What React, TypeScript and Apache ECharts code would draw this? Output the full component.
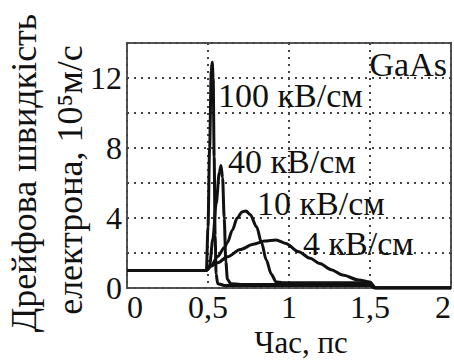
import React, { useEffect, useRef } from "react";
import * as echarts from "echarts";

const xTickValues = [0, 0.5, 1, 1.5, 2];
const xTickLabels = ["0", "0,5", "1", "1,5", "2"];
const yTickValues = [0, 4, 8, 12];
const yTickLabels = ["0", "4", "8", "12"];

const xTitle = "Час, пс";
const yTitleLine1 = "Дрейфова швидкість";
const yTitleLine2 = "електрона, 10⁵м/с";
const materialLabel = "GaAs";
const seriesNames = ["100 кВ/см", "40 кВ/см", "10 кВ/см", "4 кВ/см"];

// time (ps), drift velocity (10^5 m/s)
const v100: [number, number][] = [
  [0, 1.0], [0.49, 1.0], [0.5, 3.5], [0.51, 8.0], [0.52, 12.4], [0.526, 12.9],
  [0.532, 12.0], [0.538, 7.5], [0.544, 3.0], [0.55, 0.8], [0.56, 0.25],
  [0.6, 0.15], [1.0, 0.15], [1.5, 0.15], [1.53, 0.0], [2.0, 0.0],
];
const v40: [number, number][] = [
  [0, 1.0], [0.49, 1.0], [0.51, 1.3], [0.53, 2.8], [0.55, 4.8], [0.57, 6.6],
  [0.58, 7.0], [0.59, 6.3], [0.6, 4.0], [0.61, 1.5], [0.62, 0.5], [0.64, 0.25],
  [0.7, 0.2], [1.0, 0.2], [1.5, 0.2], [1.53, 0.0], [2.0, 0.0],
];
const v10: [number, number][] = [
  [0, 1.0], [0.49, 1.0], [0.52, 1.3], [0.56, 1.8], [0.6, 2.3], [0.62, 2.6],
  [0.65, 3.3], [0.68, 4.0], [0.71, 4.35], [0.735, 4.4], [0.76, 4.2], [0.8, 3.5],
  [0.83, 2.6], [0.86, 1.6], [0.89, 0.8], [0.92, 0.35], [0.96, 0.3], [1.2, 0.3],
  [1.5, 0.3], [1.53, 0.0], [2.0, 0.0],
];
const v4: [number, number][] = [
  [0, 1.0], [0.49, 1.0], [0.52, 1.25], [0.56, 1.45], [0.62, 1.78], [0.7, 2.2],
  [0.78, 2.5], [0.85, 2.68], [0.92, 2.74], [0.98, 2.55], [1.06, 2.07],
  [1.13, 1.7], [1.19, 1.4], [1.26, 1.05], [1.33, 0.74], [1.43, 0.46],
  [1.5, 0.35], [1.53, 0.05], [1.55, 0.0], [2.0, 0.0],
];

const FONT = "Liberation Serif";
const INK = "#111";
const CSS = `#chart-box svg text, #chart-box svg tspan { font-family: "Liberation Serif", serif !important; }`;

export default function App() {
  const ref = useRef<HTMLDivElement>(null);
  useEffect(() => {
    if (!ref.current) return;
    const chart = echarts.init(ref.current, null, { renderer: "svg" });
    const lineSeries = (name: string, data: [number, number][]) => ({
      name,
      type: "line",
      data,
      showSymbol: false,
      smooth: 0.3,
      smoothMonotone: "x",
      lineStyle: { color: INK, width: 3 },
      z: 3,
    });
    const text = (x: number, y: number, t: string, align: string, size = 34) => ({
      type: "text", x, y, z: 10,
      style: { text: t, fontFamily: FONT, fontSize: size, fill: INK, align, verticalAlign: "middle" },
    });
    const grid = { color: "#444", width: 2, type: [2, 5] };
    chart.setOption({
      animation: false,
      textStyle: { fontFamily: FONT },
      grid: {
        left: 127,
        right: 2,
        top: 43,
        bottom: 73,
        show: true,
        borderColor: "#555",
        borderWidth: 2,
      },
      xAxis: {
        type: "value",
        min: 0,
        max: 2,
        interval: 0.5,
        axisLine: { show: false },
        axisTick: { show: false },
        axisLabel: {
          fontFamily: FONT,
          fontSize: 32,
          color: INK,
          margin: 3,
          alignMinLabel: "left",
          alignMaxLabel: "right",
          formatter: (v: number) => {
            const i = xTickValues.findIndex((t) => Math.abs(t - v) < 1e-9);
            return i >= 0 ? xTickLabels[i] : "";
          },
        },
        splitLine: { show: true, lineStyle: grid },
      },
      yAxis: {
        type: "value",
        min: 0,
        max: 14,
        interval: 2,
        axisLine: { show: false },
        axisTick: { show: false },
        axisLabel: {
          fontFamily: FONT,
          fontSize: 32,
          color: INK,
          margin: 5,
          formatter: (v: number) => {
            const i = yTickValues.findIndex((t) => Math.abs(t - v) < 1e-9);
            return i >= 0 ? yTickLabels[i] : "";
          },
        },
        splitLine: { show: true, lineStyle: grid },
      },
      series: [
        lineSeries(seriesNames[0], v100),
        lineSeries(seriesNames[1], v40),
        lineSeries(seriesNames[2], v10),
        lineSeries(seriesNames[3], v4),
      ],
      graphic: [
        {
          type: "text", x: 24, y: 173, rotation: Math.PI / 2, z: 10,
          style: { text: yTitleLine1, fontFamily: FONT, fontSize: 36, fill: INK, align: "center", verticalAlign: "middle" },
        },
        {
          type: "text", x: 70, y: 180, rotation: Math.PI / 2, z: 10,
          style: { text: yTitleLine2, fontFamily: FONT, fontSize: 36, fill: INK, align: "center", verticalAlign: "middle" },
        },
        text(301, 342, xTitle, "center", 31),
        text(447, 64, materialLabel, "right"),
        text(218, 95, seriesNames[0], "left"),
        text(228, 161, seriesNames[1], "left"),
        text(257, 203, seriesNames[2], "left"),
        text(303, 243, seriesNames[3], "left"),
      ],
    });
    return () => chart.dispose();
  }, []);
  return (
    <div>
      <style>{CSS}</style>
      <div
        id="chart-box"
        ref={ref}
        style={{ position: "absolute", left: 0, top: 0, width: 454, height: 361, background: "#fff" }}
      />
    </div>
  );
}
